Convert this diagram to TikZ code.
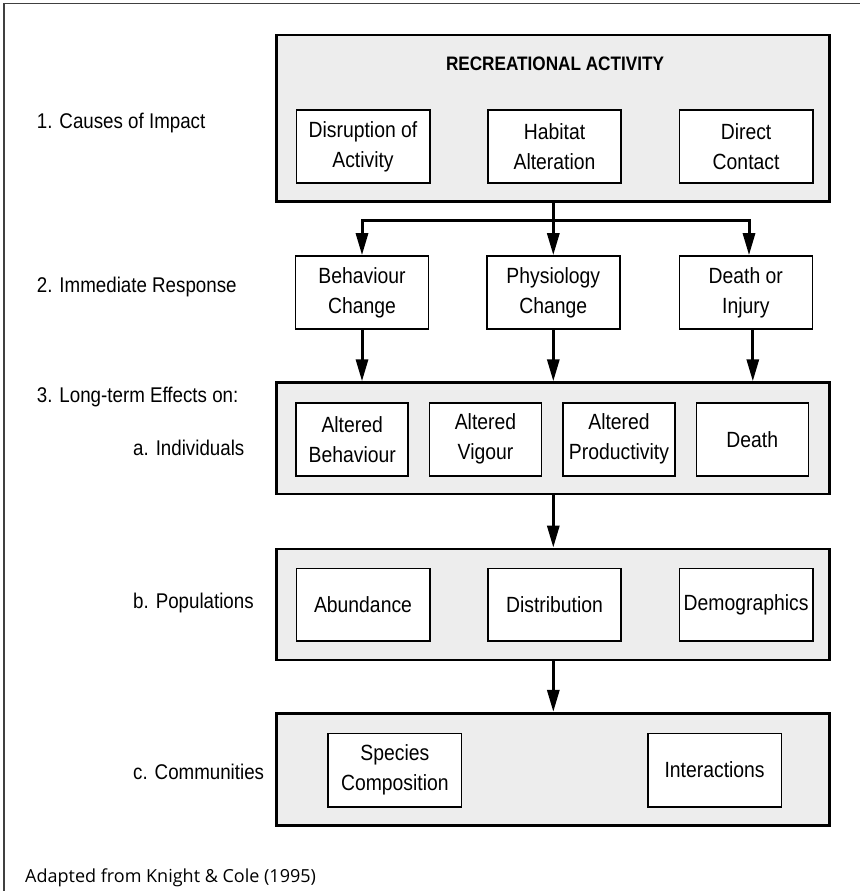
\documentclass[tikz,border=0pt]{standalone}
\usepackage{fontspec}
\setmainfont{Liberation Sans}[FakeStretch=0.88]
\newfontfamily\notefont{Open Sans}
\usetikzlibrary{arrows.meta}
\begin{document}
\begin{tikzpicture}[x=1pt,y=-1pt,
  bigbox/.style={draw=black, line width=2.8pt, fill=black!7, inner sep=0pt},
  smallbox/.style={draw=black, line width=1.6pt, fill=white, align=center, inner sep=0pt,
    font=\fontsize{22}{30}\selectfont},
  lefttext/.style={anchor=west, inner sep=0pt, font=\fontsize{21.3}{25}\selectfont},
  conn/.style={line width=3pt},
  arr/.style={line width=3pt, -{Triangle[length=22pt,width=12pt]}},
  frameline/.style={line width=1.5pt, draw=black!75}
]
\useasboundingbox (0,0) rectangle (859,891);
\draw[frameline] (4,900) -- (4,3.5) -- (870,3.5);

% big boxes
\node[bigbox, minimum width=553pt, minimum height=166.7pt] (b1) at (553.3,118.35) {};
\node[bigbox, minimum width=553pt, minimum height=111.3pt] (b3) at (553.3,438.35) {};
\node[bigbox, minimum width=553pt, minimum height=111pt] (b4) at (553.3,604.5) {};
\node[bigbox, minimum width=553pt, minimum height=112.4pt] (b5) at (553.3,769.5) {};

\node[font=\fontsize{19.5}{23}\bfseries, inner sep=0pt] (title) at (555,64) {RECREATIONAL ACTIVITY};

% row 1
\begin{scope}[every node/.style={smallbox, minimum width=133.4pt, minimum height=72.7pt}]
\node (r1a) at (363,146.35) {Disruption of\\Activity};
\node (r1b) at (554.5,146.35) {Habitat\\Alteration};
\node (r1c) at (746.1,146.35) {Direct\\Contact};
\end{scope}

% row 2
\begin{scope}[every node/.style={smallbox, minimum width=133pt, minimum height=73pt}]
\node (r2a) at (362,292.5) {Behaviour\\Change};
\node (r2b) at (553.3,292.5) {Physiology\\Change};
\node (r2c) at (745.8,292.5) {Death or\\Injury};
\end{scope}

% row 3
\begin{scope}[every node/.style={smallbox, minimum width=112pt, minimum height=73pt}]
\node (r3a) at (352.2,439.2) {Altered\\Behaviour};
\node (r3b) at (485.5,439.2) {Altered\\Vigour};
\node (r3c) at (619,439.2) {Altered\\Productivity};
\node (r3d) at (752.3,439.2) {Death};
\end{scope}

% row 4
\begin{scope}[every node/.style={smallbox, minimum width=133.4pt, minimum height=72.7pt}]
\node (r4a) at (363,604.65) {Abundance};
\node (r4b) at (554.5,604.65) {Distribution};
\node (r4c) at (746.1,604.65) {Demographics};
\end{scope}

% row 5
\begin{scope}[every node/.style={smallbox, minimum width=133.4pt, minimum height=73.4pt}]
\node (r5a) at (394.9,770) {Species\\Composition};
\node (r5b) at (714.6,770) {Interactions};
\end{scope}

% left labels
\node[lefttext] (l1) at (36.7,122.7) {1. Causes of Impact};
\node[lefttext] (l2) at (36.7,287) {2. Immediate Response};
\node[lefttext] (l3) at (36.7,396.7) {3. Long-term Effects on:};
\node[lefttext] (l3a) at (133,448) {a. Individuals};
\node[lefttext] (l3b) at (133,603.3) {b. Populations};
\node[lefttext] (l3c) at (133,771.7) {c. Communities};
\node[anchor=west, inner sep=0pt, font=\notefont\fontsize{18}{22}\selectfont] (note) at (25,878) {Adapted from Knight \& Cole (1995)};

% connectors
\coordinate (j) at (553.3,220);
\coordinate (jl) at (362,220);
\coordinate (jr) at (749,220);
\draw[conn] (b1.south) -- (j);
\draw[arr] (j) -- (jl) -- (r2a.north);
\draw[arr] (j) -- (jr) -- (jr |- r2c.north);
\draw[arr] (j) -- (r2b.north);

\draw[arr] (r2a.south) -- (r2a.south |- b3.north);
\draw[arr] (r2b.south) -- (r2b.south |- b3.north);
\draw[arr] ([xshift=7pt]r2c.south) -- ([xshift=7pt]r2c.south |- b3.north);

\draw[arr] (b3.south) -- (b4.north);
\draw[arr] (b4.south) -- (b5.north);
\end{tikzpicture}
\end{document}
